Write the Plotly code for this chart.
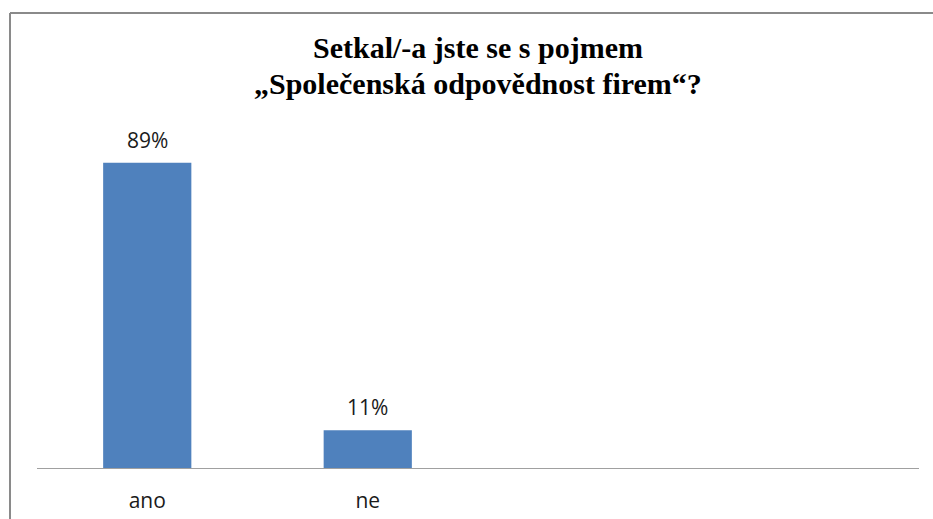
import plotly.graph_objects as go

categories = ["ano", "ne"]
values = [89, 11]
value_labels = ["89%", "11%"]
title_lines = ["Setkal/-a jste se s pojmem", "„Společenská odpovědnost firem“?"]

W, H = 933, 519
L, R, T, B = 37, 14, 125, 51
pw, ph = W - L - R, H - T - B

def px_x(p):
    return (p - L) / pw

def px_y(p):
    return (H - B - p) / ph

fig = go.Figure()
fig.add_trace(go.Bar(
    x=categories, y=values, width=0.4,
    marker=dict(color="#4F81BD", line=dict(width=0)),
    hoverinfo="skip",
))

annotations = []
for c, v, t in zip(categories, values, value_labels):
    annotations.append(dict(
        x=c, y=v, xref="x", yref="y", text=t, showarrow=False,
        yanchor="middle", yshift=23,
        font=dict(family="Open Sans", size=21, color="#1a1a1a"),
    ))
for i, (line, py) in enumerate(zip(title_lines, [47.7, 83.5])):
    annotations.append(dict(
        x=0.5, y=px_y(py), xref="paper", yref="paper", text="<b>%s</b>" % line,
        showarrow=False, yanchor="middle", xanchor="center",
        font=dict(family="Liberation Serif", size=30, color="#000000"),
    ))

shapes = [
    dict(type="line", xref="paper", yref="paper",
         x0=px_x(10), x1=px_x(10), y0=px_y(H + 5), y1=px_y(13),
         line=dict(color="#8a8a8a", width=2)),
    dict(type="line", xref="paper", yref="paper",
         x0=px_x(10), x1=px_x(W + 5), y0=px_y(13), y1=px_y(13),
         line=dict(color="#8a8a8a", width=2)),
]

fig.update_layout(
    width=W, height=H,
    margin=dict(l=L, r=R, t=T, b=B, pad=0, autoexpand=False),
    paper_bgcolor="white", plot_bgcolor="white",
    showlegend=False,
    annotations=annotations,
    shapes=shapes,
    xaxis=dict(
        type="category", range=[-0.5, 3.5], automargin=False,
        showline=True, linecolor="#a0a0a0", linewidth=1,
        showgrid=False, zeroline=False, ticks="",
        tickfont=dict(family="Open Sans", size=21, color="#1a1a1a"),
        ticklabelstandoff=14,
        fixedrange=True,
    ),
    yaxis=dict(range=[0, 100], visible=False, fixedrange=True),
)

fig.write_html("out.html")
